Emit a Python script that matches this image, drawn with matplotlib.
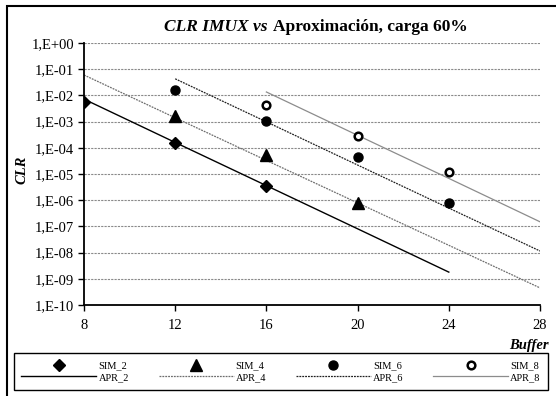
import matplotlib.pyplot as plt
import matplotlib.ticker as mticker
import numpy as np

plt.rcParams['font.family'] = ['Liberation Serif', 'DejaVu Serif']

# Simulated CLR values
buf_sim2 = [8, 12, 16]
sim2 = [5.6e-3, 1.5e-4, 3.5e-6]
buf_sim4 = [12, 16, 20]
sim4 = [1.6e-3, 5.3e-5, 7.9e-7]
buf_sim6 = [12, 16, 20, 24]
sim6 = [1.6e-2, 1.05e-3, 4.4e-5, 7.9e-7]
buf_sim8 = [16, 20, 24]
sim8 = [4.3e-3, 2.8e-4, 1.2e-5]

# Approximation curves
buf_apr2 = [8, 12, 16, 20, 24]
apr2 = [7.2e-3, 1.6e-4, 3.6e-6, 8.1e-8, 1.8e-9]
buf_apr4 = [8, 12, 16, 20, 24, 28]
apr4 = [6.0e-2, 1.4e-3, 3.3e-5, 7.9e-7, 1.9e-8, 4.5e-10]
buf_apr6 = [12, 16, 20, 24, 28]
apr6 = [4.3e-2, 9.8e-4, 2.2e-5, 5.0e-7, 1.15e-8]
buf_apr8 = [16, 20, 24, 28]
apr8 = [1.35e-2, 3.0e-4, 6.8e-6, 1.5e-7]

fig = plt.figure(figsize=(5.56, 3.96), dpi=100)
ax = fig.add_axes([84 / 556, 1 - 305 / 396, 456 / 556, 262 / 396])

# outer chart border
fig.patches.append(plt.Rectangle((7 / 556, -0.01), 1.0, 1 - 6 / 396 + 0.01,
                                 transform=fig.transFigure, fill=False,
                                 edgecolor='black', linewidth=1.5))

ax.plot(buf_sim2, sim2, linestyle='none', marker='D', markersize=6.5,
        color='black', label='SIM_2', zorder=5)
ax.plot(buf_apr2, apr2, color='black', linewidth=1.0, label='APR_2')
ax.plot(buf_sim4, sim4, linestyle='none', marker='^', markersize=8,
        color='black', label='SIM_4', zorder=5)
ax.plot(buf_apr4, apr4, color='#6e6e6e', linewidth=0.9, dashes=(1.5, 0.8),
        label='APR_4')
ax.plot(buf_sim6, sim6, linestyle='none', marker='o', markersize=6.5,
        color='black', label='SIM_6', zorder=5)
ax.plot(buf_apr6, apr6, color='#202020', linewidth=0.9, dashes=(1.5, 0.8),
        label='APR_6')
ax.plot(buf_sim8, sim8, linestyle='none', marker='o', markersize=5.5,
        markerfacecolor='white', markeredgecolor='black', markeredgewidth=1.8,
        label='SIM_8', zorder=5)
ax.plot(buf_apr8, apr8, color='#8c8c8c', linewidth=0.9, label='APR_8')

ax.set_yscale('log')
ax.set_ylim(1e-10, 1)
ax.set_xlim(8, 28)
ax.set_xticks([8, 12, 16, 20, 24, 28])
ax.set_yticks([10.0 ** k for k in range(-10, 1)])
ax.yaxis.set_major_formatter(mticker.FuncFormatter(
    lambda v, pos: f"1,E{int(round(np.log10(v))):+03d}"))
ax.yaxis.set_minor_locator(mticker.NullLocator())
ax.tick_params(axis='both', direction='out', length=4, width=1,
               labelsize=10.5, color='black')
ax.tick_params(axis='y', pad=3)
ax.tick_params(axis='x', pad=6)

ax.grid(axis='y', color='#8a8a8a', linewidth=0.8, dashes=(2, 1))
ax.set_axisbelow(True)
for side in ['top', 'right']:
    ax.spines[side].set_visible(False)
for side in ['left', 'bottom']:
    ax.spines[side].set_linewidth(1.3)

# title with mixed styles
fig.text(268 / 556, 1 - 27 / 396, 'CLR IMUX vs', ha='right', va='center',
         fontsize=12.5, fontweight='bold', fontstyle='italic')
fig.text(273 / 556, 1 - 27 / 396, 'Aproximación, carga 60%', ha='left',
         va='center', fontsize=12.5, fontweight='bold')

fig.text(22 / 556, 1 - 170 / 396, 'CLR', rotation=90, ha='center',
         va='center', fontsize=10.5, fontweight='bold', fontstyle='italic')
fig.text(549 / 556, 1 - 345 / 396, 'Buffer', ha='right', va='center',
         fontsize=10.5, fontweight='bold', fontstyle='italic')

leg = ax.legend(loc='center', bbox_to_anchor=(281 / 556, 1 - 371.5 / 396),
                bbox_transform=fig.transFigure, ncol=4, fontsize=7.5,
                handlelength=7.2, handletextpad=0.2, columnspacing=2.85,
                labelspacing=0.2, borderpad=0.75, numpoints=1,
                fancybox=False, framealpha=1, edgecolor='black')
leg.get_frame().set_linewidth(1.0)

fig.savefig('out.png', dpi=100)
